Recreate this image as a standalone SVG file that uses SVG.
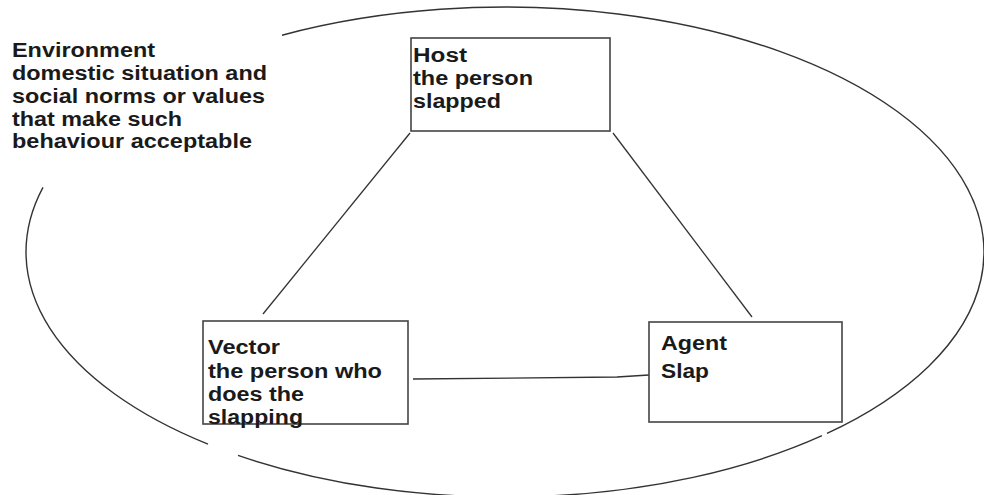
<svg xmlns="http://www.w3.org/2000/svg" width="984" height="495" viewBox="0 0 984 495">
  <style>
    .bg { fill: #ffffff; }
    .box { fill: #ffffff; stroke: #444444; stroke-width: 1.6; }
    .line { fill: none; stroke: #333333; stroke-width: 1.3; }
    .env { fill: none; stroke: #333333; stroke-width: 1.4; }
    .t { font-family: "Liberation Sans", Arial, sans-serif; font-size: 19.5px; font-weight: bold; fill: #1a1a1a; }
  </style>
  <rect class="bg" x="0" y="0" width="984" height="495"/>

  <g id="environment">
    <path class="env" d="M 43 187.3 A 479 245 0 0 0 208 444.2"/>
    <path class="env" d="M 238 455.4 A 479 245 0 0 0 822 435.7"/>
    <path class="env" d="M 827 433.4 A 479 245 0 0 0 282 35.2"/>
    <text class="t" x="12" y="57" textLength="143" lengthAdjust="spacingAndGlyphs">Environment</text>
    <text class="t" x="12" y="80" textLength="255" lengthAdjust="spacingAndGlyphs">domestic situation and</text>
    <text class="t" x="12" y="103" textLength="253" lengthAdjust="spacingAndGlyphs">social norms or values</text>
    <text class="t" x="12" y="126" textLength="170" lengthAdjust="spacingAndGlyphs">that make such</text>
    <text class="t" x="12" y="148" textLength="240" lengthAdjust="spacingAndGlyphs">behaviour acceptable</text>
  </g>

  <g id="connectors">
    <line class="line" x1="410" y1="133" x2="263" y2="314"/>
    <line class="line" x1="613" y1="133" x2="752" y2="317"/>
    <polyline class="line" points="413,379 617,377 649,375"/>
  </g>

  <g id="host">
    <rect class="box" x="411" y="38" width="199" height="93"/>
    <text class="t" x="413" y="62" textLength="54" lengthAdjust="spacingAndGlyphs">Host</text>
    <text class="t" x="413" y="85" textLength="120" lengthAdjust="spacingAndGlyphs">the person</text>
    <text class="t" x="413" y="108" textLength="88" lengthAdjust="spacingAndGlyphs">slapped</text>
  </g>

  <g id="vector">
    <rect class="box" x="203" y="321" width="205" height="103"/>
    <text class="t" x="208" y="354" textLength="72" lengthAdjust="spacingAndGlyphs">Vector</text>
    <text class="t" x="208" y="378" textLength="174" lengthAdjust="spacingAndGlyphs">the person who</text>
    <text class="t" x="208" y="401" textLength="96" lengthAdjust="spacingAndGlyphs">does the</text>
    <text class="t" x="208" y="424" textLength="95" lengthAdjust="spacingAndGlyphs">slapping</text>
  </g>

  <g id="agent">
    <rect class="box" x="649" y="322" width="193" height="100"/>
    <text class="t" x="661" y="350" textLength="66" lengthAdjust="spacingAndGlyphs">Agent</text>
    <text class="t" x="661" y="378" textLength="48" lengthAdjust="spacingAndGlyphs">Slap</text>
  </g>
</svg>
